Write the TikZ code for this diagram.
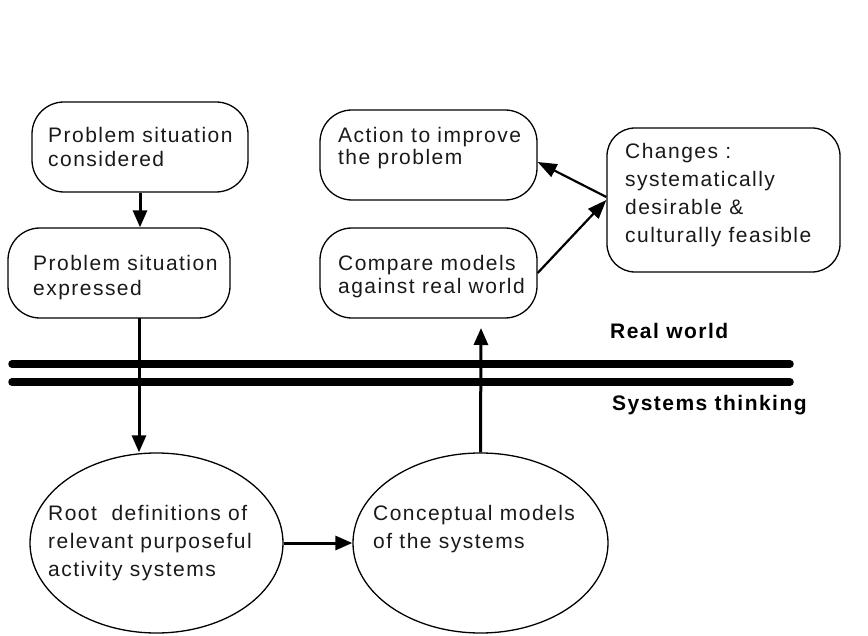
\documentclass[tikz,border=0pt]{standalone}
\usepackage{fontspec}
\setmainfont{Liberation Sans}[LetterSpace=7.0]
\usetikzlibrary{arrows.meta,shapes.geometric}
\tikzset{
  x=1pt, y=-1pt,
  rbox/.style={draw=black, line width=1.3pt, rounded corners=32pt, inner sep=0pt,
    minimum width=#1, minimum height=90pt},
  oval/.style={draw=black, line width=1.3pt, ellipse, inner sep=0pt,
    minimum width=#1, minimum height=180pt},
  txt/.style={inner sep=0pt, anchor=north west, align=left, text=black!90,
    font=\fontsize{21pt}{#1}\selectfont},
  txt/.default=24pt,
  lbl/.style={inner sep=0pt, anchor=north west, text=black,
    font=\fontsize{21pt}{24pt}\selectfont\bfseries},
  arr/.style={line width=3pt, -{Triangle[length=17pt,width=14pt]}},
  darr/.style={line width=2.2pt, -{Triangle[length=19pt,width=14pt]}},
  sep/.style={line width=7.5pt, line cap=round},
}
\begin{document}
\begin{tikzpicture}
\useasboundingbox (0,0) rectangle (868,636);
% boxes
\node[rbox=216pt] (b1) at (140,147) {};
\node[rbox=222pt] (b2) at (119,273) {};
\node[rbox=217pt] (b3) at (428.5,155) {};
\node[rbox=217pt] (b4) at (428.5,273) {};
\node[rbox=233pt, minimum height=144pt, rounded corners=28pt] (b5) at (723.5,200) {};
\node[oval=253pt] (root) at (156.5,543) {};
\node[oval=255pt] (conc) at (480.5,543) {};
% texts
\node[txt=24pt] (t1) at (48,127) {Problem situation\\considered};
\node[txt=25pt] (t2) at (33,255) {Problem situation\\expressed};
\node[txt=22pt] (t3) at (338,127) {Action to improve\\the problem};
\node[txt=23pt] (t4) at (338,255) {Compare models\\against real world};
\node[txt=28pt] (t5) at (625,143) {Changes :\\systematically\\desirable \&\\culturally feasible};
\node[txt=28pt] (t6) at (48,505) {Root\ \ definitions of\\relevant purposeful\\activity systems};
\node[txt=28pt] (t7) at (373,505) {Conceptual models\\of the systems};
\node[lbl] (rw) at (610,323) {Real world};
\node[lbl] (st) at (612,395) {Systems thinking};
% separator lines
\coordinate (l1a) at (12,364);
\coordinate (l1b) at (790,364);
\coordinate (l2a) at (12,382);
\coordinate (l2b) at (790,382);
\draw[sep] (l1a) -- (l1b);
\draw[sep] (l2a) -- (l2b);
% connectors
\coordinate (d2) at (139,318);
\coordinate (u2) at (481,328);
\draw[arr] (b1.south) -- (b1.south |- b2.north);
\draw[arr] (d2) -- (d2 |- root.north);
\draw[arr] (root.east) -- (conc.west);
\draw[arr] (conc.north) -- (u2);
\draw[darr] (b4.east) -- (b5.west);
\draw[darr] ([yshift=3pt]b5.west) -- ([yshift=-7pt]b3.east);
\end{tikzpicture}
\end{document}
